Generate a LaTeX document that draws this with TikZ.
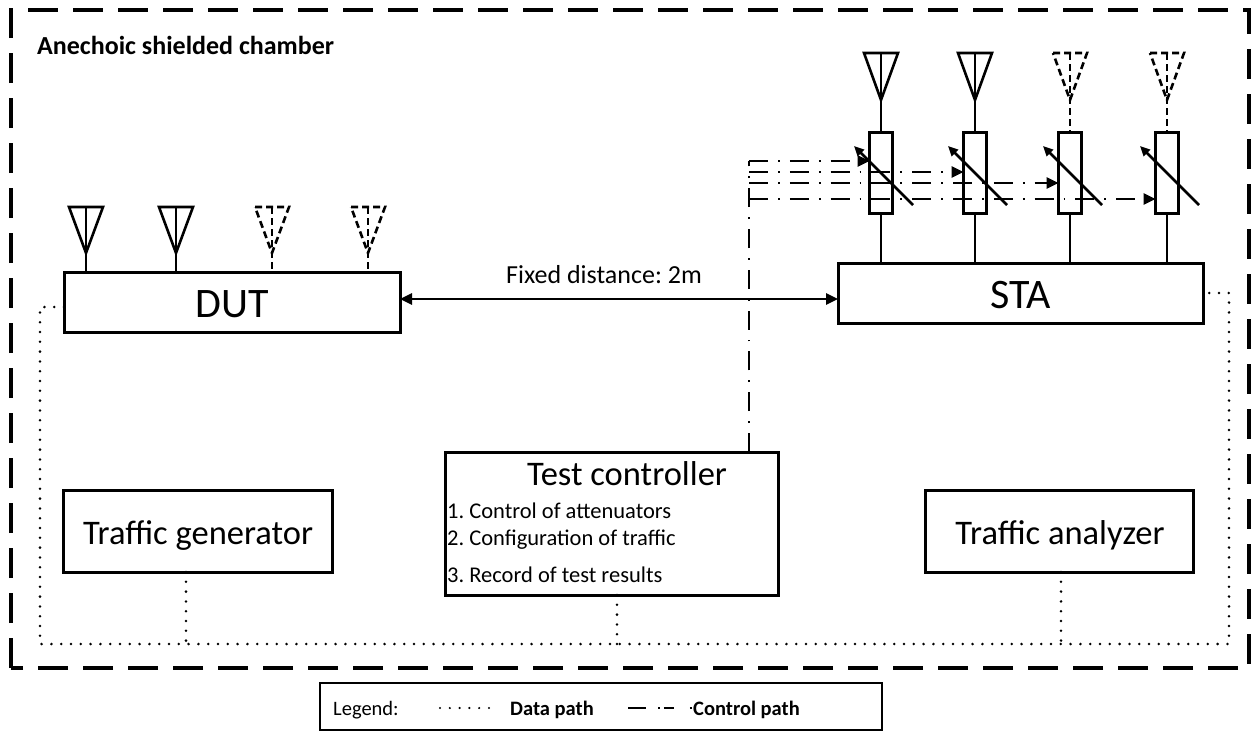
\documentclass[tikz,border=0pt]{standalone}
\usepackage{fontspec}
\setmainfont{Carlito}
\usetikzlibrary{arrows.meta,calc}
\frenchspacing
\begin{document}
\begin{tikzpicture}[x=1pt,y=-1pt,
  box/.style={draw,line width=3pt,inner sep=0pt,outer sep=0pt,anchor=north west},
  attbox/.style={draw,line width=3pt,inner sep=0pt,outer sep=0pt,minimum width=23pt,minimum height=81pt},
  chamber/.style={line width=3.5pt,dash pattern=on 30pt off 15pt},
  datapath/.style={line width=2.8pt,line cap=round,dash pattern=on 0pt off 9.8pt},
  ctrlpath/.style={line width=2.6pt,dash pattern=on 19pt off 10pt on 1.8pt off 10pt},
  ant/.style={line width=2.6pt,line join=miter},
  dant/.style={line width=2.6pt,dash pattern=on 7pt off 4pt},
  tip/.style={-{Triangle[length=12pt,width=11pt]}},
  bigtxt/.style={font=\fontsize{42}{48}\selectfont,anchor=base,inner sep=0pt},
  midtxt/.style={font=\fontsize{34.5}{40}\selectfont,anchor=base,inner sep=0pt},
  smalltxt/.style={font=\fontsize{22.5}{26}\selectfont,anchor=base west,inner sep=0pt},
  legtxt/.style={font=\fontsize{20.5}{24}\selectfont,anchor=base west,inner sep=0pt},
  legbold/.style={font=\bfseries\fontsize{20.5}{24}\selectfont,anchor=base west,inner sep=0pt},
]
\useasboundingbox (0,0) rectangle (1252,732);
% chamber
\draw[chamber] (11,668) -- (11,10) -- (1249,10) -- (1249,668) -- cycle;
\node[font=\bfseries\fontsize{26}{30}\selectfont,anchor=base west,inner sep=0pt] (title) at (37,54) {Anechoic shielded chamber};

% boxes
\node[box,minimum width=336pt,minimum height=60pt] (dut) at (64,272) {};
\node[bigtxt] (duttxt) at ($(dut.center)+(0,15)$) {DUT};
\node[box,minimum width=365pt,minimum height=60pt] (sta) at (838,263) {};
\node[bigtxt] (statxt) at ($(sta.center)+(0,15)$) {STA};
\node[box,minimum width=333pt,minimum height=143pt] (tc) at (445,452) {};
\node[midtxt] (tctitle) at (627,485) {Test controller};
\node[smalltxt] (l1) at (447,518) {1. Control of attenuators};
\node[smalltxt] (l2) at (447,545) {2. Configuration of traffic};
\node[smalltxt] (l3) at (447,582) {3. Record of test results};
\node[box,minimum width=269pt,minimum height=82pt] (tg) at (63,490) {};
\node[midtxt] (tgtxt) at (198,544) {Traffic generator};
\node[box,minimum width=268pt,minimum height=82pt] (ta) at (925,490) {};
\node[midtxt] (tatxt) at (1060,544) {Traffic analyzer};

% fixed distance
\draw[line width=2.6pt,{Triangle[length=12pt,width=11pt]}-{Triangle[length=12pt,width=11pt]}] (dut.east |- 0,299) -- (sta.west |- 0,299);
\node[font=\fontsize{26}{30}\selectfont,anchor=base,inner sep=0pt] (fd) at (604,283) {Fixed distance: 2m};

% DUT antennas
\foreach \i/\x in {1/86,2/176,3/272,4/368} {
  \coordinate (dap\i) at (\x,253);
  \coordinate (dat\i) at (\x,207);
  \coordinate (dab\i) at (\x,272);
}
\foreach \i in {1,2} {
  \draw[ant] ($(dat\i)+(-17,0)$) -- ($(dat\i)+(17,0)$) -- (dap\i) -- cycle;
  \draw[ant] (dat\i) -- (dab\i);
}
\foreach \i in {3,4} {
  \draw[dant] ($(dat\i)+(-17,0)$) -- ($(dat\i)+(17,0)$) -- (dap\i) -- cycle;
  \draw[dant] (dat\i) -- (dab\i);
}

% STA antennas and attenuators
\foreach \i/\x in {1/881,2/975,3/1070,4/1167} {
  \node[attbox] (att\i) at (\x,172.5) {};
  \coordinate (sap\i) at (\x,100);
  \coordinate (sat\i) at (\x,53);
  \draw[line width=2.6pt] (att\i.south) -- (att\i.south |- sta.north);
  \draw[line width=2.6pt,-{Triangle[length=10pt,width=9pt]}] ($(att\i.center)+(32,32.5)$) -- ($(att\i.center)+(-27,-26.5)$);
}
\foreach \i in {1,2} {
  \draw[ant] ($(sat\i)+(-17,0)$) -- ($(sat\i)+(17,0)$) -- (sap\i) -- cycle;
  \draw[ant] (sat\i) -- (att\i.north);
}
\foreach \i in {3,4} {
  \draw[dant] ($(sat\i)+(-17,0)$) -- ($(sat\i)+(17,0)$) -- (sap\i) -- cycle;
  \draw[dant] (sat\i) -- (att\i.north);
}

% control path
\coordinate (ctl) at (749,452);
\coordinate (c1) at (749,161);
\coordinate (c2) at (749,172);
\coordinate (c3) at (749,183);
\coordinate (c4) at (749,199);
\draw[ctrlpath] (ctl) -- (c1);
\draw[ctrlpath,tip] (c1) -- (att1.west |- c1);
\draw[ctrlpath,tip] (c2) -- (att2.west |- c2);
\draw[ctrlpath,tip] (c3) -- (att3.west |- c3);
\draw[ctrlpath,tip] (c4) -- (att4.west |- c4);

% data path
\coordinate (bl) at (40,644);
\coordinate (br) at (1229,644);
\coordinate (dutd) at ($(dut.west)+(0,5)$);
\draw[datapath] (dutd) -- (dutd -| bl) -- (bl) -- (br) -- (br |- sta.east) -- (sta.east);
\coordinate (tgd) at (186,572);
\coordinate (tcd) at (617,595);
\coordinate (tad) at (1061,572);
\draw[datapath] (tgd) -- (tgd |- bl);
\draw[datapath] (tcd) -- (tcd |- bl);
\draw[datapath] (tad) -- (tad |- bl);

% legend
\node[box,line width=1.8pt,minimum width=562pt,minimum height=47pt] (legend) at (320,683) {};
\node[legtxt] (lg) at (333,715) {Legend:};
\coordinate (ld1) at (440,708);
\coordinate (ld2) at (495,708);
\draw[datapath,line width=2.4pt] (ld1) -- (ld2);
\node[legbold] (ldp) at (510,715) {Data path};
\coordinate (lc1) at (628,708);
\coordinate (lc2) at (692,708);
\draw[line width=2.2pt,dash pattern=on 18pt off 12pt on 1.8pt off 4pt on 10pt off 16pt on 1.8pt off 5pt] (lc1) -- (lc2);
\node[legbold] (lcp) at (693,715) {Control path};
\end{tikzpicture}
\end{document}
